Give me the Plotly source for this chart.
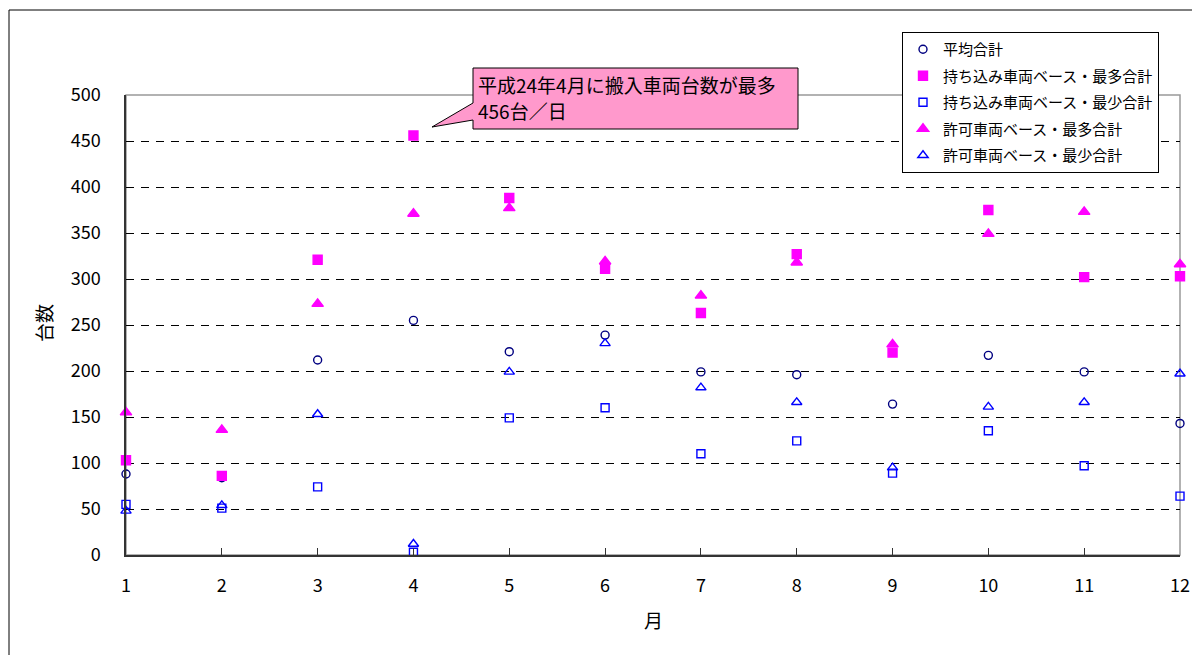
import plotly.graph_objects as go

months = list(range(1, 13))
avg_total = [88, 84, 212, 255, 221, 239, 199, 196, 164, 217, 199, 143]
carry_max = [103, 86, 321, 456, 388, 311, 263, 327, 220, 375, 302, 303]
carry_min = [55, 51, 74, 3, 149, 160, 110, 124, 89, 135, 97, 64]
permit_max = [155, 136, 273, 371, 377, 319, 282, 318, 229, 349, 373, 316]
permit_min = [48, 54, 153, 12, 199, 230, 182, 166, 95, 161, 166, 197]

names = ["平均合計", "持ち込み車両ベース・最多合計", "持ち込み車両ベース・最少合計",
         "許可車両ベース・最多合計", "許可車両ベース・最少合計"]
yticks = [0, 50, 100, 150, 200, 250, 300, 350, 400, 450, 500]
callout_lines = ["平成24年4月に搬入車両台数が最多", "456台／日"]

FONT = "Noto Sans CJK JP"
W, H = 1192, 655
L, R, T, B = 126, 12, 95, 100
PW, PH = W - L - R, H - T - B


def px(x):
    return (x - L) / PW


def py(y):
    return (H - B - y) / PH


series = [
    (avg_total, "circle-open", "#000080", 8),
    (carry_max, "square", "#FF00FF", 9),
    (carry_min, "square-open", "#0000FF", 8),
    (permit_max, "triangle-up", "#FF00FF", 10),
    (permit_min, "triangle-up-open", "#0000FF", 9),
]

fig = go.Figure()
for i, (vals, sym, col, sz) in enumerate(series):
    fig.add_trace(go.Scatter(
        x=months, y=vals, mode="markers", name=names[i], legendgroup=str(i),
        marker=dict(symbol=sym, color=col, size=sz, line=dict(color=col, width=1.4)),
        cliponaxis=False,
    ))

shapes = [
    # outer chart border
    dict(type="rect", xref="paper", yref="paper", x0=px(9), x1=px(1200), y0=py(662), y1=py(10),
         line=dict(color="black", width=1), fillcolor="rgba(0,0,0,0)", layer="below"),
    # plot area border (gray)
    dict(type="rect", xref="paper", yref="paper", x0=0, x1=1, y0=0, y1=1,
         line=dict(color="#999999", width=1.5), layer="between"),
    # callout
    dict(type="path", xref="paper", yref="paper",
         path=(f"M {px(473)},{py(68)} L {px(798)},{py(68)} L {px(798)},{py(129)} "
               f"L {px(473)},{py(129)} L {px(473)},{py(120)} L {px(432)},{py(127)} "
               f"L {px(473)},{py(103)} Z"),
         line=dict(color="black", width=1), fillcolor="#FF99CC", layer="above"),
]

annotations = [
    dict(text=callout_lines[0], xref="paper", yref="paper", x=px(477), y=py(84),
         xanchor="left", yanchor="middle", align="left", showarrow=False, borderpad=0,
         font=dict(family=FONT, size=19, color="black")),
    dict(text=callout_lines[1], xref="paper", yref="paper", x=px(477), y=py(110),
         xanchor="left", yanchor="middle", align="left", showarrow=False, borderpad=0,
         font=dict(family=FONT, size=19, color="black")),
    dict(text="台数", xref="paper", yref="paper", x=px(43), y=py(323),
         xanchor="center", yanchor="middle", textangle=-90, showarrow=False,
         font=dict(family=FONT, size=19, color="black")),
    dict(text="月", xref="paper", yref="paper", x=px(653), y=py(619),
         xanchor="center", yanchor="middle", showarrow=False,
         font=dict(family=FONT, size=19, color="black")),
]

fig.update_layout(
    width=W, height=H,
    margin=dict(l=L, r=R, t=T, b=B, pad=0, autoexpand=False),
    paper_bgcolor="white", plot_bgcolor="white",
    font=dict(family=FONT, size=18, color="black"),
    showlegend=True,
    legend=dict(x=px(902), y=py(32), xanchor="left", yanchor="top",
                bgcolor="white", bordercolor="black", borderwidth=1,
                font=dict(family=FONT, size=15, color="black"),
                tracegroupgap=4, itemwidth=30),
    shapes=shapes,
    annotations=annotations,
    xaxis=dict(range=[1, 12], tickvals=months, ticktext=[str(m) for m in months],
               automargin=False,
               showgrid=False, zeroline=False, showline=True, linecolor="#333333", linewidth=1.5,
               ticks="inside", ticklen=7, tickcolor="#333333", tickwidth=1,
               ticklabelstandoff=14, tickfont=dict(family=FONT, size=18)),
    yaxis=dict(range=[0, 500], tickvals=yticks, showgrid=True, gridcolor="black", gridwidth=1,
               automargin=False,
               griddash="8px,7px", zeroline=False, showline=True, linecolor="#333333", linewidth=1.5,
               ticks="", ticklabelstandoff=20, tickfont=dict(family=FONT, size=18)),
)

fig.write_html("out.html", config={"displayModeBar": False},
               post_script="document.body.style.margin='0';document.body.style.overflow='hidden';")
